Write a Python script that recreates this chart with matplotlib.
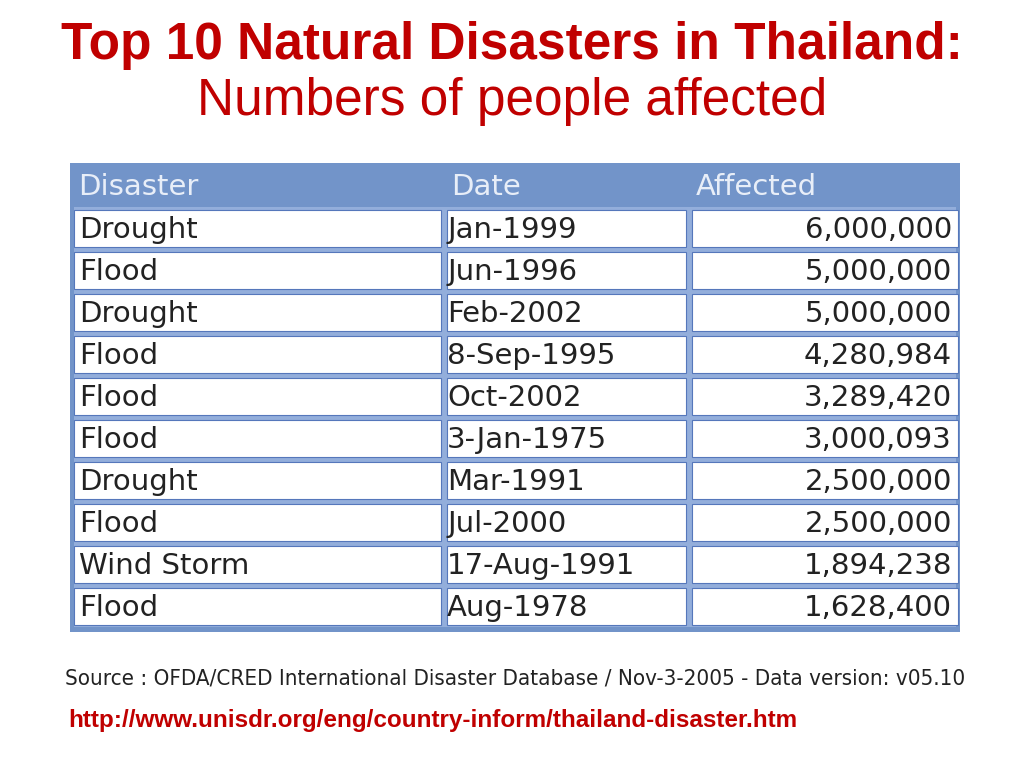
import matplotlib
matplotlib.use('Agg')
from matplotlib import pyplot as plt
from matplotlib.patches import Rectangle

disasters = ['Drought', 'Flood', 'Drought', 'Flood', 'Flood', 'Flood',
             'Drought', 'Flood', 'Wind Storm', 'Flood']
dates = ['Jan-1999', 'Jun-1996', 'Feb-2002', '8-Sep-1995', 'Oct-2002',
         '3-Jan-1975', 'Mar-1991', 'Jul-2000', '17-Aug-1991', 'Aug-1978']
affected = [6000000, 5000000, 5000000, 4280984, 3289420,
            3000093, 2500000, 2500000, 1894238, 1628400]
headers = ['Disaster', 'Date', 'Affected']

red = '#c00000'
blue = '#7294c9'
line_blue = '#93aedb'

fig = plt.figure(figsize=(10.24, 7.68), dpi=100)
ax = fig.add_axes([0, 0, 1, 1])
ax.set_xlim(0, 1024)
ax.set_ylim(768, 0)
ax.axis('off')

font = 'Liberation Sans'
ax.text(512, 45, 'Top 10 Natural Disasters in Thailand:', ha='center', va='center',
        fontsize=37, fontweight='bold', color=red, family=font)
ax.text(512, 102, 'Numbers of people affected', ha='center', va='center',
        fontsize=37, color=red, family=font)

# table frame
left, right, top = 70, 960, 163
head_h, row_h = 44, 42
cols = [left, 443, 688, right]
bottom = top + head_h + row_h * len(disasters) + 5
tfont = 'DejaVu Sans'
ax.add_patch(Rectangle((left, top), right - left, bottom - top, color=blue, lw=0))
ax.add_patch(Rectangle((left + 4, top + head_h), right - left - 8, bottom - top - head_h - 5,
                       color=line_blue, lw=0))

for j, h in enumerate(headers):
    ax.text(cols[j] + 8, top + head_h / 2 + 2, h, ha='left', va='center',
            fontsize=21, color='#e8eef8', family=tfont)

for i in range(len(disasters)):
    y0 = top + head_h + i * row_h
    for j in range(3):
        ax.add_patch(Rectangle((cols[j] + 4, y0 + 3), cols[j + 1] - cols[j] - 6, row_h - 5,
                               facecolor='white', edgecolor='#5577bb', lw=0.8))
    yc = y0 + row_h / 2 + 2
    ax.text(cols[0] + 9, yc, disasters[i], ha='left', va='center', fontsize=21,
            color='#222222', family=tfont)
    ax.text(cols[1] + 4, yc, dates[i], ha='left', va='center', fontsize=21,
            color='#222222', family=tfont)
    ax.text(cols[3] - 8, yc, f'{affected[i]:,}', ha='right', va='center', fontsize=21,
            color='#222222', family=tfont)

ax.text(65, 678, 'Source : OFDA/CRED International Disaster Database / Nov-3-2005 - Data version: v05.10',
        ha='left', va='center', fontsize=16, color='#222222', family='DejaVu Sans',
        fontstretch='condensed')
ax.text(68, 720, 'http://www.unisdr.org/eng/country-inform/thailand-disaster.htm',
        ha='left', va='center', fontsize=17.5, fontweight='bold', color=red, family=font)

fig.savefig('out.png', dpi=100)
